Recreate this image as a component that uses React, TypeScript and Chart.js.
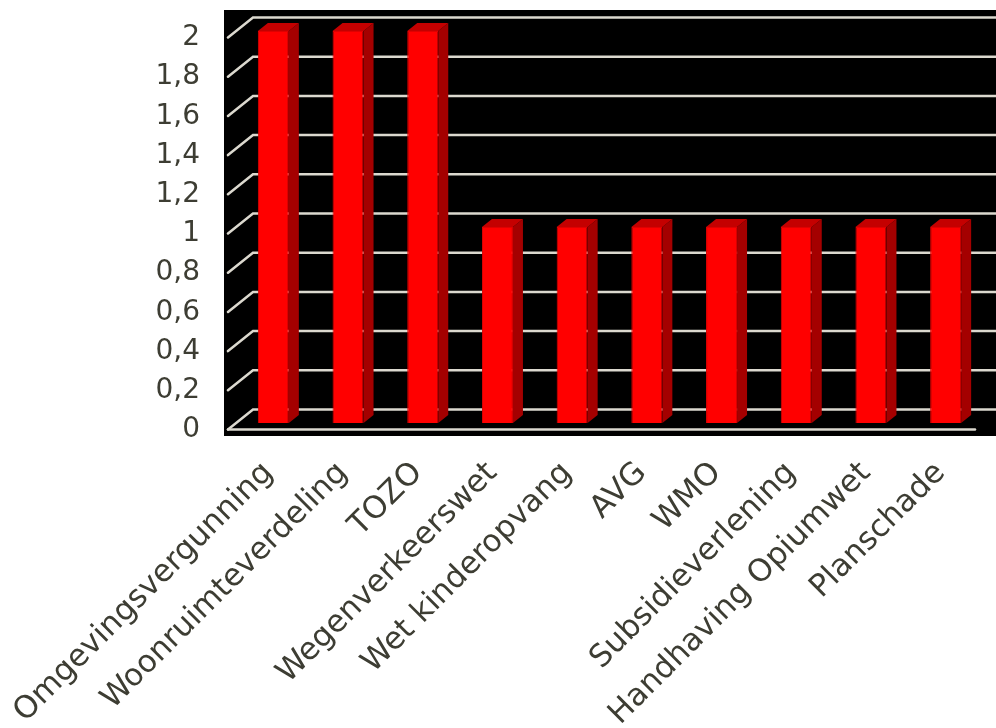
import React, { useEffect, useRef } from "react";
import { Chart, registerables } from "chart.js";

Chart.register(...registerables);

const categories = [
  "Omgevingsvergunning",
  "Woonruimteverdeling",
  "TOZO",
  "Wegenverkeerswet",
  "Wet kinderopvang",
  "AVG",
  "WMO",
  "Subsidieverlening",
  "Handhaving Opiumwet",
  "Planschade",
];
const values = [2, 2, 2, 1, 1, 1, 1, 1, 1, 1];
const yMin = 0;
const yMax = 2;
const yStep = 0.2;

const TEXT = "#3d3d33";
const GRID = "#dcd9cf";

const plot3d = {
  id: "plot3d",
  beforeDatasetsDraw(chart: any) {
    const { ctx, chartArea: a, scales } = chart;
    const y = scales.y;
    ctx.save();
    ctx.fillStyle = "#000000";
    ctx.fillRect(a.left - 12, a.top - 21, chart.width - (a.left - 12), a.bottom + 13 - (a.top - 21));
    ctx.strokeStyle = GRID;
    ctx.lineWidth = 2.5;
    ctx.lineCap = "round";
    const fx = a.left - 8;
    const bx = a.left + 17;
    y.ticks.forEach((t: any) => {
      const py = y.getPixelForValue(t.value);
      ctx.beginPath();
      ctx.moveTo(fx, py + 6.5);
      ctx.lineTo(bx, py - 13.5);
      ctx.lineTo(chart.width, py - 13.5);
      ctx.stroke();
    });
    const p0 = y.getPixelForValue(0);
    ctx.beginPath();
    ctx.moveTo(fx, p0 + 6.5);
    ctx.lineTo(a.right - 8, p0 + 6.5);
    ctx.stroke();
    ctx.restore();
  },
  afterDatasetsDraw(chart: any) {
    const { ctx } = chart;
    const meta = chart.getDatasetMeta(0);
    const dx = 10;
    const dy = -8;
    ctx.save();
    meta.data.forEach((bar: any) => {
      const p = bar.getProps(["x", "y", "base", "width"], true);
      const left = p.x - p.width / 2;
      const right = p.x + p.width / 2;
      ctx.fillStyle = "#a40000";
      ctx.beginPath();
      ctx.moveTo(right, p.y);
      ctx.lineTo(right + dx, p.y + dy);
      ctx.lineTo(right + dx, p.base + dy);
      ctx.lineTo(right, p.base);
      ctx.closePath();
      ctx.fill();
      ctx.fillStyle = "#c40000";
      ctx.beginPath();
      ctx.moveTo(left, p.y);
      ctx.lineTo(left + dx, p.y + dy);
      ctx.lineTo(right + dx, p.y + dy);
      ctx.lineTo(right, p.y);
      ctx.closePath();
      ctx.fill();
    });
    ctx.restore();
  },
};

export default function App() {
  const ref = useRef<HTMLCanvasElement | null>(null);
  useEffect(() => {
    document.body.style.margin = "0";
    const chart = new Chart(ref.current as HTMLCanvasElement, {
      type: "bar",
      data: {
        labels: categories,
        datasets: [
          {
            data: values,
            backgroundColor: "#ff0000",
            borderColor: "#e00000",
            borderWidth: 1,
            categoryPercentage: 1,
            barPercentage: 0.415,
          },
        ],
      },
      options: {
        animation: false,
        responsive: true,
        maintainAspectRatio: false,
        layout: { padding: { top: 31, right: 13, left: 0, bottom: 0 } },
        plugins: { legend: { display: false }, tooltip: { enabled: false } },
        scales: {
          x: {
            grid: { display: false, drawTicks: false },
            border: { display: false },
            ticks: {
              autoSkip: false,
              maxRotation: 45,
              minRotation: 45,
              padding: 32,
              labelOffset: -5,
              color: TEXT,
              font: { family: "DejaVu Sans", size: 31 },
            },
            afterFit(scale: any) {
              scale.height = 305;
              scale.paddingLeft = 0;
              scale.paddingRight = 0;
              scale.paddingTop = 0;
              scale.paddingBottom = 0;
            },
          },
          y: {
            min: yMin,
            max: yMax,
            grid: { display: false, drawTicks: false },
            border: { display: false },
            ticks: {
              stepSize: yStep,
              padding: 36,
              labelOffset: 7,
              color: TEXT,
              font: { family: "DejaVu Sans", size: 28 },
              callback: (v: any) => String(Number(Number(v).toFixed(1))).replace(".", ","),
            },
            afterFit(scale: any) {
              scale.width = 236;
              scale.paddingTop = 0;
              scale.paddingBottom = 0;
              scale.paddingLeft = 0;
              scale.paddingRight = 0;
            },
          },
        },
      },
      plugins: [plot3d],
    });
    return () => chart.destroy();
  }, []);
  return (
    <div style={{ width: 996, height: 728, position: "relative" }}>
      <canvas ref={ref} />
    </div>
  );
}
